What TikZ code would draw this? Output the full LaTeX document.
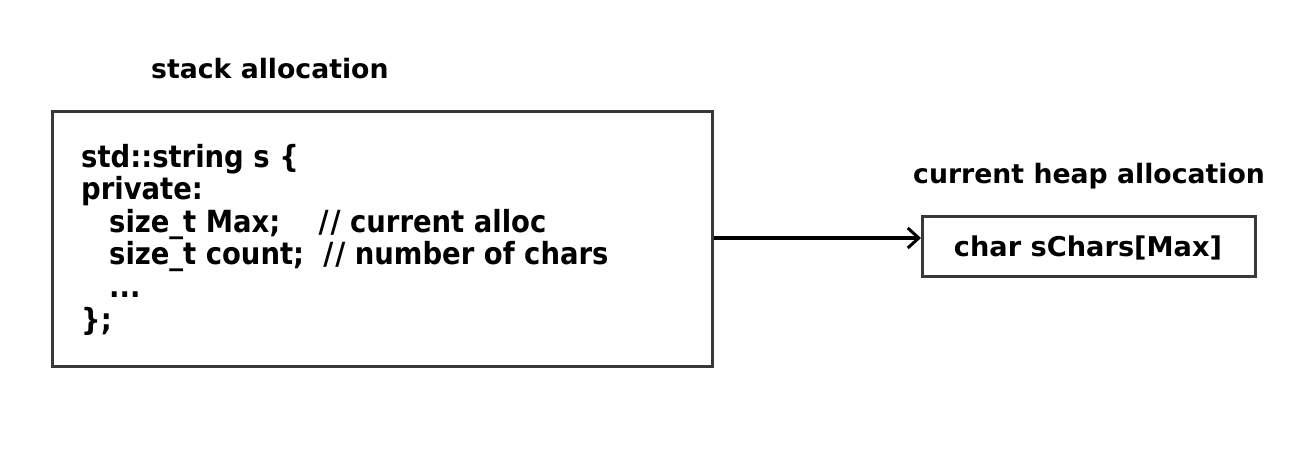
\documentclass[tikz,border=0pt]{standalone}
\usepackage{fontspec}
\setmainfont{DejaVu Sans}
\newfontfamily\condfont{DejaVu Sans Condensed}
\usetikzlibrary{arrows.meta}
\definecolor{edge}{HTML}{383838}
\newcommand{\slsl}{/\kern2pt/}
\begin{document}
\begin{tikzpicture}[x=1pt,y=-1pt,
  boxstyle/.style={draw=edge, line width=2.8pt, inner sep=0pt, anchor=north west},
  codeline/.style={anchor=base west, inner sep=0pt, font=\condfont\bfseries\fontsize{30.5}{36}\selectfont},
  lbl/.style={anchor=base west, inner sep=0pt, font=\bfseries\fontsize{26.7}{32}\selectfont},
  conn/.style={draw=black, line width=3.6pt, -{Straight Barb[length=11pt,width=20pt,line width=3pt]}}]
\useasboundingbox (0,0) rectangle (1314,451);
\node[boxstyle, minimum width=660pt, minimum height=255pt] (stack) at (51,110) {};
\node[boxstyle, minimum width=333pt, minimum height=60pt] (heap) at (921,215) {};
\node[lbl] (stacklbl) at (151,78) {stack allocation};
\node[lbl] (heaplbl) at (913,183) {current heap allocation};
\node[anchor=base, inner sep=0pt, font=\bfseries\fontsize{27.2}{32}\selectfont] (heaptxt) at (1088,256) {char sChars[Max]};
\node[codeline] (l1) at (81,167) {std::string s \{};
\node[codeline] (l2) at (81,199) {private:};
\node[codeline] (l3) at (109,232) {size\_t Max;\ \ \ \ \slsl{} current alloc};
\node[codeline] (l4) at (109,264) {size\_t count;\ \ \slsl{} number of chars};
\node[codeline] (l5) at (109,297) {...};
\node[codeline] (l6) at (81,330) {\};};
\draw[conn] (stack.east |- 0,238) -- (heap.west |- 0,238);
\end{tikzpicture}
\end{document}
